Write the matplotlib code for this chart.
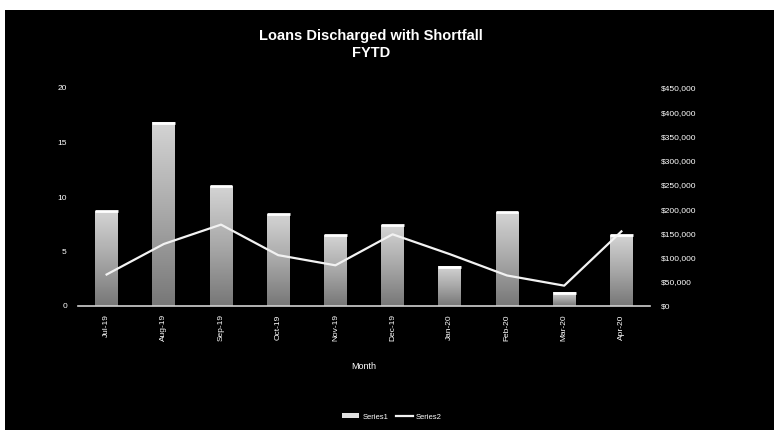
import numpy as np
import matplotlib
matplotlib.use("Agg")
import matplotlib.pyplot as plt
from matplotlib.patches import Rectangle
from matplotlib.colors import LinearSegmentedColormap
from matplotlib.ticker import FuncFormatter, MultipleLocator

plt.rcParams['font.family'] = ['Liberation Sans Narrow', 'Liberation Sans', 'DejaVu Sans']

# Monthly data, financial year to date
months = ["Jul-19", "Aug-19", "Sep-19", "Oct-19", "Nov-19",
          "Dec-19", "Jan-20", "Feb-20", "Mar-20", "Apr-20"]
loan_counts = [8.7, 16.8, 11.0, 8.4, 6.5, 7.4, 3.6, 8.6, 1.2, 6.5]           # Series1 (left axis)
shortfall = [65000, 128000, 168000, 105000, 84000,
             148000, 107000, 63000, 42000, 154000]                         # Series2 (right axis)

fig = plt.figure(figsize=(7.79, 4.30), dpi=100, facecolor="white")
# black chart panel inside a thin white margin
panel = fig.add_axes([5 / 779, 0, 769 / 779, 420 / 430], zorder=0)
panel.set_facecolor("black")
panel.set_xticks([])
panel.set_yticks([])
for s in panel.spines.values():
    s.set_visible(False)

ax = fig.add_axes([78 / 779, 1 - 306 / 430, (650 - 78) / 779, (306 - 88) / 430], zorder=1)
ax.set_facecolor("black")
x = np.arange(len(months))

bar_cmap = LinearSegmentedColormap.from_list("bargrad", ["#777777", "#a8a8a8", "#d4d4d4"])
bars = ax.bar(x, loan_counts, width=0.4, color="none", edgecolor="none", zorder=2)
grad = np.linspace(0, 1, 256).reshape(-1, 1)
for b in bars:
    x0, y0 = b.get_xy()
    w, h = b.get_width(), b.get_height()
    ax.imshow(grad, extent=[x0, x0 + w, y0, y0 + h], origin="lower",
              cmap=bar_cmap, aspect="auto", zorder=2, interpolation="bilinear")
    ax.plot([x0, x0 + w], [y0 + h, y0 + h], color="white", lw=2, zorder=3,
            solid_capstyle="butt")

ax.set_xlim(-0.5, len(months) - 0.5)
ax.set_ylim(0, 20)
ax.yaxis.set_major_locator(MultipleLocator(5))
ax.set_xticks(x)
ax.set_xticklabels(months, rotation=90, color="white", fontsize=6)
ax.tick_params(axis="y", colors="white", labelsize=6, length=0, pad=8)
ax.tick_params(axis="x", colors="white", length=0, pad=6)
for s in ["top", "left", "right"]:
    ax.spines[s].set_visible(False)
ax.spines["bottom"].set_color("#d0d0d0")
ax.spines["bottom"].set_linewidth(1.2)
ax.set_xlabel("Month", color="white", fontsize=6.5, labelpad=15)

ax2 = ax.twinx()
ax2.set_zorder(2)
ax2.patch.set_visible(False)
line, = ax2.plot(x, shortfall, color="#f2f2f2", lw=1.6, zorder=4)
ax2.set_ylim(0, 450000)
ax2.yaxis.set_major_locator(MultipleLocator(50000))
ax2.yaxis.set_major_formatter(FuncFormatter(lambda v, p: f"${v:,.0f}"))
ax2.tick_params(axis="y", colors="white", labelsize=6, length=0, pad=8)
for s in ax2.spines.values():
    s.set_visible(False)

fig.text(371 / 779, 1 - 36 / 430, "Loans Discharged with Shortfall", color="white",
         fontsize=10.5, fontweight="bold", ha="center", va="center", zorder=5)
fig.text(371 / 779, 1 - 53 / 430, "FYTD", color="white",
         fontsize=10.5, fontweight="bold", ha="center", va="center", zorder=5)

bar_handle = Rectangle((0, 0), 1, 1, facecolor="#e0e0e0", edgecolor="none")
leg = fig.legend([bar_handle, line], ["Series1", "Series2"], loc="center",
                 bbox_to_anchor=(392 / 779, 1 - 417 / 430), ncol=2, frameon=False,
                 fontsize=5.5, labelcolor="white", handlelength=2.2,
                 handleheight=0.6, columnspacing=1.0, handletextpad=0.4)
leg.set_zorder(5)

fig.savefig("out.png", dpi=100, facecolor="white")
